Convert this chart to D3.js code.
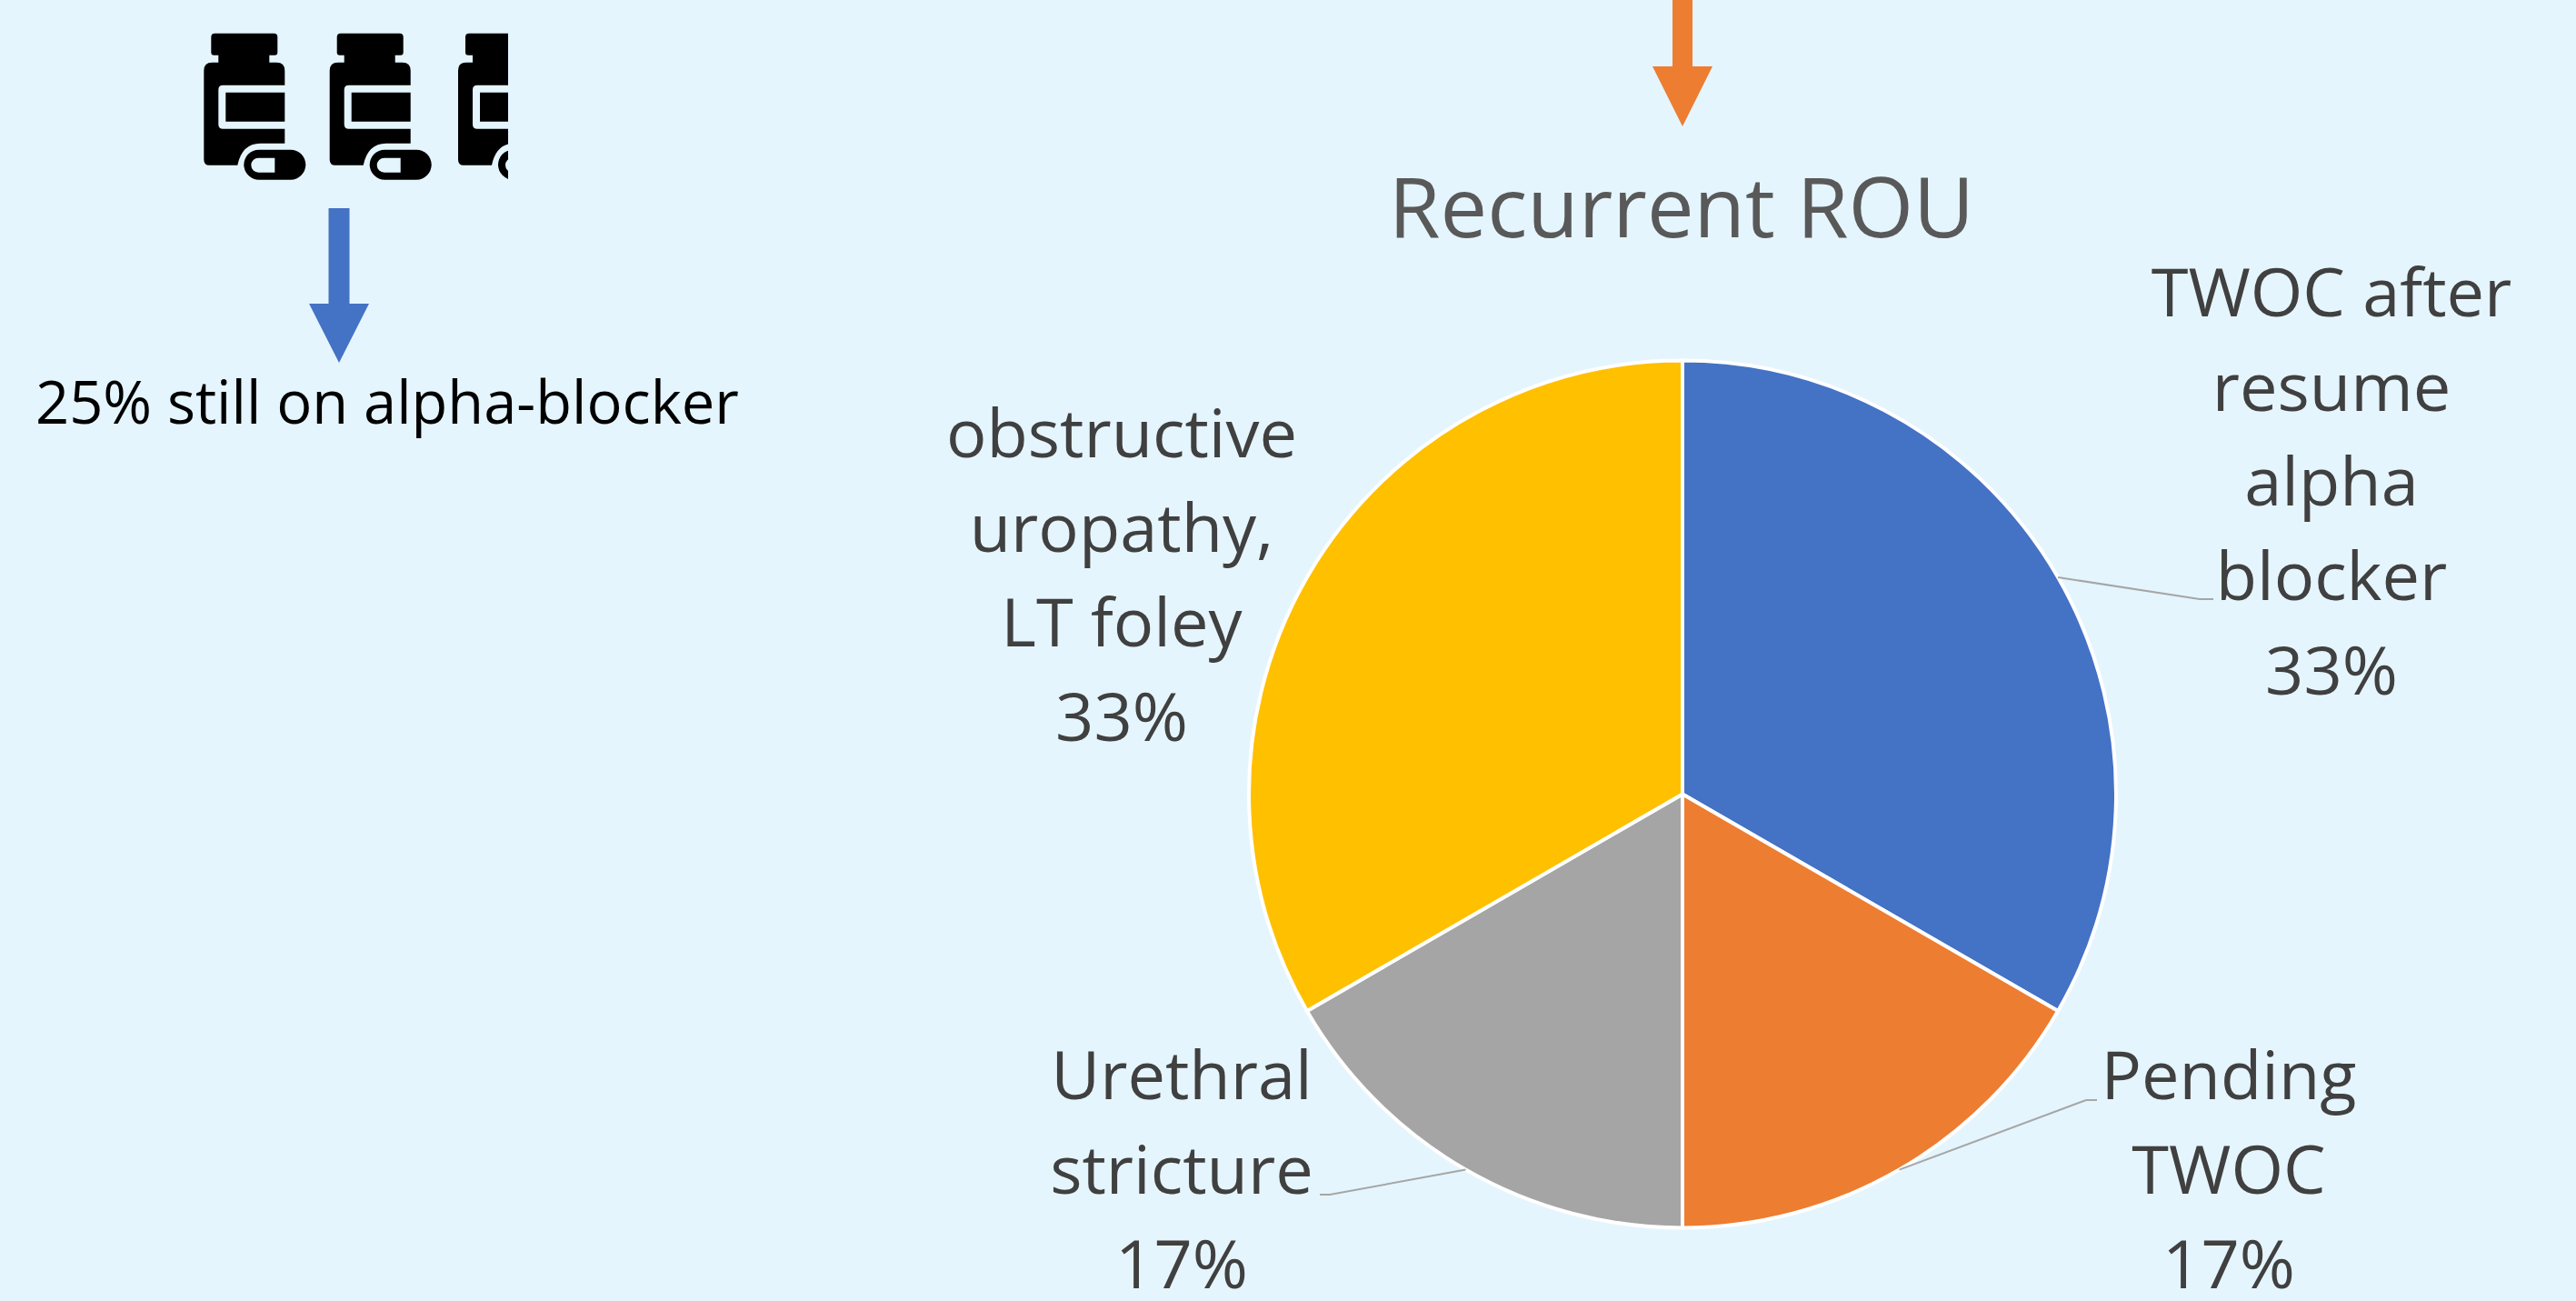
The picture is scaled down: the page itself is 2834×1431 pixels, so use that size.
<!DOCTYPE html>
<html>
<head>
<meta charset="utf-8">
<script src="https://cdn.jsdelivr.net/npm/d3@7"></script>
<style>
  html, body { margin: 0; padding: 0; background: #e5f5fd; overflow: hidden; }
  text { font-family: "Open Sans", "Noto Sans", sans-serif; }
</style>
</head>
<body>
<svg class="chart"></svg>
<script>
const w = 2834
const h = 1431
const bg = '#e5f5fd'

// pie data
const categories = ['TWOC after resume alpha blocker', 'Pending TWOC', 'Urethral stricture', 'obstructive uropathy, LT foley']
const values = [2, 1, 1, 2]
const colors = ['#4472c4', '#ed7d31', '#a5a5a5', '#ffc000']
const percents = ['33%', '17%', '17%', '33%']
const labelLines = [
  ['TWOC after', 'resume', 'alpha', 'blocker', '33%'],
  ['Pending', 'TWOC', '17%'],
  ['Urethral', 'stricture', '17%'],
  ['obstructive', 'uropathy,', 'LT foley', '33%']
]
const titleText = 'Recurrent ROU'
const noteText = '25% still on alpha-blocker'

// where the labels sit
const labelPos = [[2565, 348], [2452, 1209], [1300, 1209], [1234, 503]]
const lineStep = 104
// leader elbows, null means no leader
const elbows = [[[2420, 659], [2435, 659]], [[2295, 1210], [2307, 1210]], [[1463, 1314], [1452, 1314]], null]

const cx = 1851
const cy = 873.5
const r = 477

const svg = d3.select('.chart')
    .attr('width', w)
    .attr('height', h)
    .style('display', 'block')

svg.append('rect')
    .attr('width', w)
    .attr('height', h)
    .attr('fill', bg)

// clip for the third bottle, it is cut off in the original
svg.append('clipPath').attr('id', 'iconClip')
  .append('rect')
    .attr('x', 180)
    .attr('y', 0)
    .attr('width', 379)
    .attr('height', 260)

// bottle and pill icon
const bottlePath = 'M12 0H77Q81 0 81 4V21Q81 24 78 24H72V32H80Q89 32 89 41V57H21Q16 57 16 62V100Q16 105 21 105H89V121H62Q42 121 37 145H6Q0 145 0 139V41Q0 32 9 32H16V24H11Q8 24 8 21V4Q8 0 12 0Z' +
  'M24 65H89V97H24Z'
const pillOuter = 'M60.5 128H95.5A16.5 16.5 0 0 1 95.5 161H60.5A16.5 16.5 0 0 1 60.5 128Z'
const pillInner = 'M60 137H78V153H60A8 8 0 0 1 60 137Z'

const icons = svg.append('g').attr('clip-path', 'url(#iconClip)')
const iconX = [224.3, 362.7, 504]
iconX.forEach(x => {
  const g = icons.append('g').attr('transform', 'translate(' + x + ', 36.7)')
  g.append('path').attr('d', bottlePath).attr('fill', '#000').attr('fill-rule', 'evenodd')
  g.append('path').attr('d', pillOuter).attr('fill', '#000')
  g.append('path').attr('d', pillInner).attr('fill', bg)
})

// block arrows
const arrow = function (x, top, neck, tip, half, head, color) {
  svg.append('polygon')
    .attr('points', [
      [x - half, top], [x + half, top], [x + half, neck], [x + head, neck],
      [x, tip], [x - head, neck], [x - half, neck]
    ].join(' '))
    .attr('fill', color)
}
arrow(373, 229, 334, 399, 11.5, 33, '#4472c4')
arrow(1851, 0, 73, 139, 11, 33, '#ed7d31')

svg.append('text')
    .attr('x', 39)
    .attr('y', 466)
    .attr('font-size', 65)
    .attr('fill', '#000')
    .text(noteText)

svg.append('text')
    .attr('x', 1850)
    .attr('y', 261)
    .attr('text-anchor', 'middle')
    .attr('font-size', 92)
    .attr('fill', '#595959')
    .text(titleText)

// the pie itself
const pie = d3.pie().sort(null).value(d => d)
const arcs = pie(values)
const arc = d3.arc().innerRadius(0).outerRadius(r)
const edge = d3.arc().innerRadius(r).outerRadius(r)
const chart = svg.append('g').attr('transform', 'translate(' + cx + ', ' + cy + ')')

chart.selectAll('path.slice').data(arcs)
  .enter().append('path')
    .attr('class', 'slice')
    .attr('d', arc)
    .attr('fill', (d, i) => colors[i])
    .attr('stroke', '#fff')
    .attr('stroke-width', 4)

// leader lines from the slice edge to the label
const leader = d3.line()
arcs.forEach((d, i) => {
  if (!elbows[i]) return
  const start = edge.centroid(d)
  svg.append('path')
    .attr('d', leader([[start[0] + cx, start[1] + cy]].concat(elbows[i])))
    .attr('fill', 'none')
    .attr('stroke', '#a6a6a6')
    .attr('stroke-width', 2)
})

// data labels
labelLines.forEach((lines, i) => {
  const t = svg.append('text')
      .attr('text-anchor', 'middle')
      .attr('font-size', 74)
      .attr('fill', '#404040')
  lines.forEach((line, j) => {
    t.append('tspan')
      .attr('x', labelPos[i][0])
      .attr('y', labelPos[i][1] + j * lineStep)
      .text(line)
  })
})
</script>
</body>
</html>
